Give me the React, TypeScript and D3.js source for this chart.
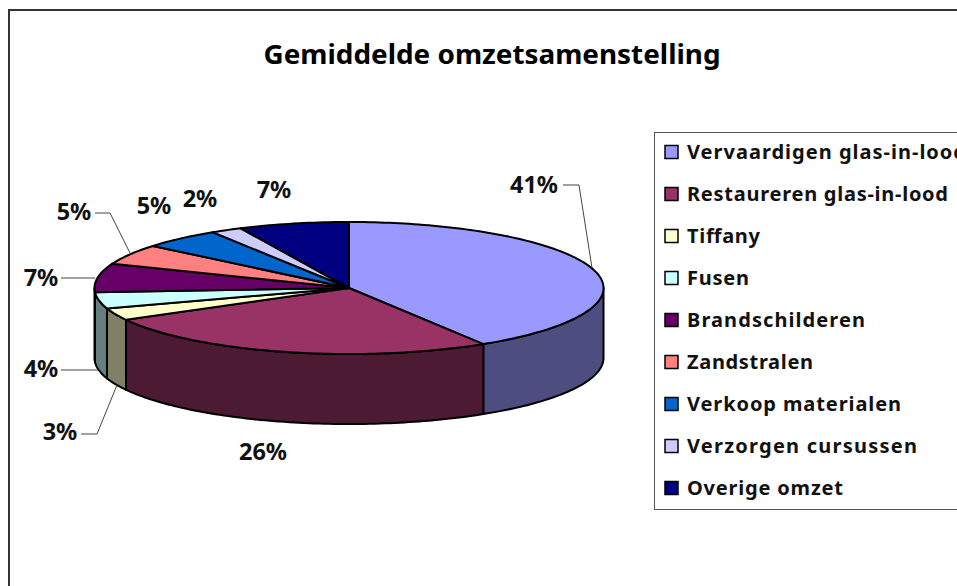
import React from "react";
import * as d3 from "d3";

const categories = ["Vervaardigen glas-in-lood","Restaureren glas-in-lood","Tiffany","Fusen","Brandschilderen","Zandstralen","Verkoop materialen","Verzorgen cursussen","Overige omzet"];
const values = [41.15,25.85,3,4,7,5,5,2,7];
const topColors = ["#9999ff","#993366","#ffffcc","#ccffff","#660066","#ff8080","#0066cc","#ccccff","#000080"];
const sideColors = ["#4d4d80","#4d1a33","#808066","#668080","#330033","#804040","#003366","#666680","#000040"];
const legendTextWidths = [279,261,73,62,178,126,214,230,156];

const FONT = "'Noto Sans', 'Open Sans', sans-serif";
const cx = 349, cy = 288, rx = 254.5, ry = 66, depth = 70;
const xs = d3.scaleLinear().domain([-1, 1]).range([cx - rx, cx + rx]);
const ys = d3.scaleLinear().domain([-1, 1]).range([cy - ry, cy + ry]);
const pieGen = d3.pie<number>().sort(null).value((d) => d);
const arcs = pieGen(values);
const pt = (a: number, dy = 0): [number, number] => [xs(Math.sin(a)), ys(-Math.cos(a)) + dy];
const line = d3.line<[number, number]>();
const pct = d3.format(".0%");

function rim(a0: number, a1: number, dy = 0): [number, number][] {
  const n = Math.max(2, Math.ceil((a1 - a0) / 0.02));
  return d3.range(n + 1).map((i) => pt(a0 + ((a1 - a0) * i) / n, dy));
}

// Data label anchor points and optional leader polylines (same order as values)
const labelLayout: { x: number; y: number; lead?: [number, number][] }[] = [
  { x: 534, y: 193, lead: [[563, 185], [579, 185], [592, 268]] },
  { x: 263, y: 460 },
  { x: 60, y: 440, lead: [[81, 434], [97, 434], [117, 385]] },
  { x: 41, y: 377, lead: [[61, 370], [98, 370]] },
  { x: 41, y: 286, lead: [[61, 278], [95, 278]] },
  { x: 74, y: 220, lead: [[95, 213], [110, 213], [130, 253]] },
  { x: 154, y: 214 },
  { x: 200, y: 207 },
  { x: 274, y: 198 },
];

const legendYs = d3.scalePoint<string>().domain(categories).range([152, 488]);

export default function App() {
  const frontSides = arcs
    .map((a, i) => ({ i, a0: Math.max(a.startAngle, Math.PI / 2), a1: Math.min(a.endAngle, (3 * Math.PI) / 2) }))
    .filter((s) => s.a1 > s.a0);
  return (
    <svg width={957} height={586} style={{ position: "fixed", left: 0, top: 0, background: "#fff" }}>
      <rect x={9} y={10} width={1000} height={1000} fill="#fff" stroke="#333" strokeWidth={2} />
      <text x={492} y={64} textAnchor="middle" fontFamily={FONT} fontWeight={700} fontSize={27} fill="#000" textLength={457} lengthAdjust="spacingAndGlyphs">Gemiddelde omzetsamenstelling</text>

      {frontSides.map((s) => {
        const top = rim(s.a0, s.a1);
        const bottom = rim(s.a0, s.a1, depth).reverse();
        return <path key={s.i} d={(line([...top, ...bottom]) ?? "") + "Z"} fill={sideColors[s.i]} stroke="#000" strokeWidth={2} strokeLinejoin="round" />;
      })}
      {arcs.map((a, i) => (
        <path key={i} d={(line([[cx, cy], ...rim(a.startAngle, a.endAngle)]) ?? "") + "Z"} fill={topColors[i]} stroke="#000" strokeWidth={2} strokeLinejoin="round" />
      ))}

      {labelLayout.map((l, i) => (
        <g key={i}>
          {l.lead && <path d={line(l.lead) ?? ""} fill="none" stroke="#444" strokeWidth={1} />}
          <text x={l.x} y={l.y} textAnchor="middle" fontFamily={FONT} fontWeight={700} fontSize={23.5} fill="#111">{pct(values[i] / 100)}</text>
        </g>
      ))}

      <rect x={654.5} y={132.5} width={400} height={377} fill="#fff" stroke="#555" strokeWidth={1} />
      {categories.map((c, i) => {
        const y = legendYs(c) ?? 0;
        return (
          <g key={c}>
            <rect x={665} y={y - 6.5} width={13} height={13} fill={topColors[i]} stroke="#000" strokeWidth={1.5} />
            <text x={687} y={y + 7} fontFamily={FONT} fontWeight={700} fontSize={20} textLength={legendTextWidths[i]} lengthAdjust="spacing" fill="#111">{c}</text>
          </g>
        );
      })}
    </svg>
  );
}
